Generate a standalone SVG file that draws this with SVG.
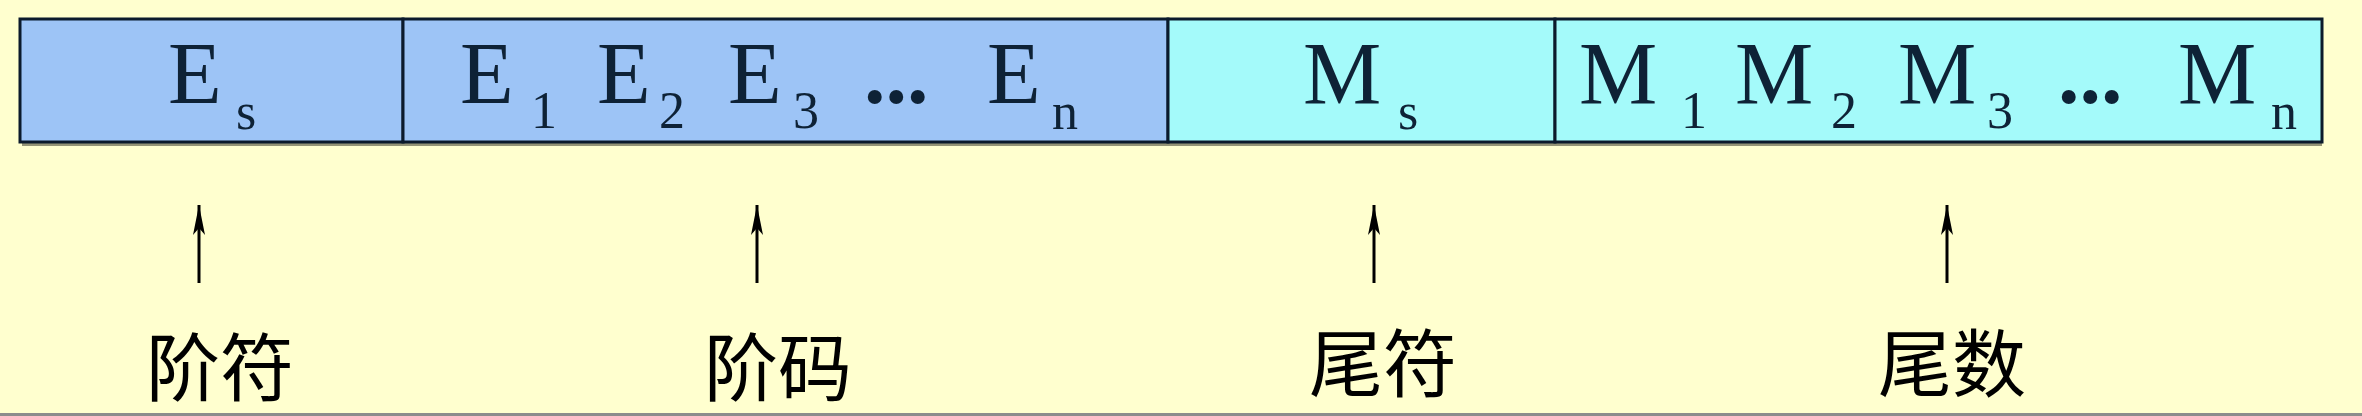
<svg xmlns="http://www.w3.org/2000/svg" width="2362" height="416" viewBox="0 0 2362 416">
<style>
.bg{fill:#FFFFCF}
.cellE{fill:#9DC4F6;stroke:#0B1A2C;stroke-width:3}
.cellM{fill:#A4FAFA;stroke:#0B1A2C;stroke-width:3}
.m{font-family:"Liberation Serif",serif;font-size:88px;fill:#0E2236}
.sd{font-family:"Liberation Serif",serif;font-size:52px;fill:#0E2236}
.sl{font-family:"Liberation Serif",serif;font-size:52px;fill:#0E2236}
.dots{font-family:"Liberation Serif",serif;font-size:86px;font-weight:bold;fill:#0E2236}
.lbl{font-family:"Noto Sans CJK SC",sans-serif;font-size:74px;fill:#000;text-anchor:middle}
.arr{stroke:#000;stroke-width:3;fill:none}
</style>
<defs>
<marker id="ah" viewBox="0 0 30 12" refX="30" refY="6" markerWidth="30" markerHeight="12" markerUnits="userSpaceOnUse" orient="auto">
<path d="M30,6 L0,0 L7,6 L0,12 Z" fill="#000"/>
</marker>
</defs>
<rect class="bg" x="0" y="0" width="2362" height="416"/>
<rect x="22" y="22" width="2300" height="124" fill="#2a2a20" opacity="0.5"/>
<g id="cell-es">
<rect class="cellE" x="20" y="19" width="383" height="123"/>
<text class="m" x="168" y="103">E</text>
<text class="sl" x="236" y="129">s</text>
</g>
<g id="cell-en">
<rect class="cellE" x="403" y="19" width="765" height="123"/>
<text class="m" x="460" y="103">E</text>
<text class="sd" x="531" y="128">1</text>
<text class="m" x="597" y="103">E</text>
<text class="sd" x="659" y="128">2</text>
<text class="m" x="728" y="103">E</text>
<text class="sd" x="793" y="128">3</text>
<text class="dots" x="864" y="103">...</text>
<text class="m" x="987" y="103">E</text>
<text class="sl" x="1052" y="129">n</text>
</g>
<g id="cell-ms">
<rect class="cellM" x="1168" y="19" width="387" height="123"/>
<text class="m" x="1303" y="103">M</text>
<text class="sl" x="1398" y="129">s</text>
</g>
<g id="cell-mn">
<rect class="cellM" x="1555" y="19" width="767" height="123"/>
<text class="m" x="1579" y="103">M</text>
<text class="sd" x="1681" y="128">1</text>
<text class="m" x="1735" y="103">M</text>
<text class="sd" x="1831" y="128">2</text>
<text class="m" x="1898" y="103">M</text>
<text class="sd" x="1987" y="128">3</text>
<text class="dots" x="2058" y="103">...</text>
<text class="m" x="2178" y="103">M</text>
<text class="sl" x="2271" y="129">n</text>
</g>
<g id="connectors">
<line class="arr" x1="199" y1="283" x2="199" y2="205" marker-end="url(#ah)"/>
<line class="arr" x1="757" y1="283" x2="757" y2="205" marker-end="url(#ah)"/>
<line class="arr" x1="1374" y1="283" x2="1374" y2="205" marker-end="url(#ah)"/>
<line class="arr" x1="1947" y1="283" x2="1947" y2="205" marker-end="url(#ah)"/>
</g>
<g id="label-jiefu"><text class="lbl" x="220" y="395">阶符</text></g>
<g id="label-jiema"><text class="lbl" x="778" y="395">阶码</text></g>
<g id="label-weifu"><text class="lbl" x="1383" y="391">尾符</text></g>
<g id="label-weishu"><text class="lbl" x="1952" y="391">尾数</text></g>
<rect x="0" y="413" width="2362" height="3" fill="#8C8C8C"/>
</svg>
